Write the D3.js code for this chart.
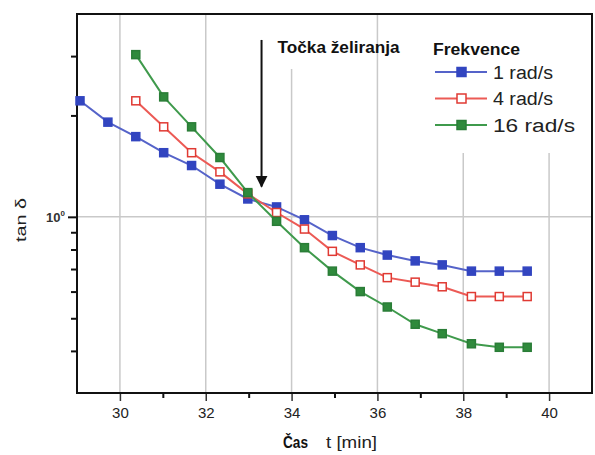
<!DOCTYPE html>
<html>
<head>
<meta charset="utf-8">
<script src="https://cdn.jsdelivr.net/npm/d3@7"></script>
<style>
  body { margin: 0; background: #fff; }
  svg { font-family: "Liberation Sans", Arial, sans-serif; }
</style>
</head>
<body>
<div id="chart"></div>
<script>
// ---------------  DATA  ---------------
const times = [29.07, 29.72, 30.37, 31.02, 31.67, 32.33, 32.98, 33.65, 34.30,
  34.95, 35.60, 36.23, 36.88, 37.51, 38.19, 38.84, 39.49];
const tan1 = [2.21, 1.91, 1.73, 1.55, 1.42, 1.25, 1.13, 1.07, 0.98,
  0.88, 0.81, 0.77, 0.74, 0.72, 0.69, 0.69, 0.69];
// 4 and 16 rad/s start at the third time point
const tan4 = [null, null, 2.21, 1.85, 1.55, 1.36, 1.17, 1.03, 0.92,
  0.79, 0.72, 0.66, 0.64, 0.62, 0.58, 0.58, 0.58];
const tan16 = [null, null, 3.03, 2.27, 1.85, 1.50, 1.18, 0.97, 0.81,
  0.69, 0.60, 0.54, 0.48, 0.45, 0.42, 0.41, 0.41];
const seriesNames = ["1 rad/s", "4 rad/s", "16 rad/s"];
const xTicks = [30, 32, 34, 36, 38, 40];
const xMinorTicks = [31, 33, 35, 37, 39];
const yMinorTicks = [0.4, 0.5, 0.6, 0.7, 0.8, 0.9, 2, 3];
const gelPoint = { t: 33.3, from: 3.35, to: 1.23 };

// ---------------  SIZING  ---------------
const w = 595, h = 455;
const pLeft = 77, pRight = 592, pTop = 14, pBottom = 393;

const x = d3.scaleLinear().domain([29, 41]).range([pLeft, pRight]);
const y = d3.scaleLog().domain([0.3, 4]).range([pBottom, pTop]);

const svg = d3.select("#chart").append("svg")
  .attr("width", w).attr("height", h);

// ---------------  GRID  ---------------
svg.append("g").selectAll("line").data(xTicks).enter().append("line")
  .attr("x1", d => x(d)).attr("x2", d => x(d))
  .attr("y1", pTop).attr("y2", pBottom)
  .attr("stroke", "#c9c9c9").attr("stroke-width", 1.5);
svg.append("line")
  .attr("x1", pLeft).attr("x2", pRight)
  .attr("y1", y(1)).attr("y2", y(1))
  .attr("stroke", "#c9c9c9").attr("stroke-width", 1.5);

// white boxes behind annotation and legend (they hide the grid)
svg.append("rect").attr("x", 268).attr("y", pTop + 1)
  .attr("width", 72).attr("height", 54).attr("fill", "#fff");
svg.append("rect").attr("x", 424).attr("y", pTop + 1)
  .attr("width", pRight - 425).attr("height", 138).attr("fill", "#fff");

// ---------------  AXES  ---------------
const xAxis = svg.append("g")
  .attr("transform", "translate(0," + pBottom + ")")
  .call(d3.axisBottom(x).tickValues(xTicks).tickSize(8).tickPadding(6).tickFormat(d3.format("d")));
xAxis.select(".domain").remove();
xAxis.selectAll("text").attr("font-size", 15).attr("fill", "#222");
xAxis.selectAll("line").attr("stroke", "#333").attr("stroke-width", 1.5);

svg.append("g")
  .attr("transform", "translate(0," + pBottom + ")")
  .call(d3.axisBottom(x).tickValues(xMinorTicks).tickSize(5).tickFormat(""))
  .call(g => g.select(".domain").remove())
  .selectAll("line").attr("stroke", "#111").attr("stroke-width", 2);

svg.append("g")
  .attr("transform", "translate(" + pLeft + ",0)")
  .call(d3.axisLeft(y).tickValues(yMinorTicks).tickSize(6).tickFormat(""))
  .call(g => g.select(".domain").remove())
  .selectAll("line").attr("stroke", "#111").attr("stroke-width", 2);

svg.append("g")
  .attr("transform", "translate(" + pLeft + ",0)")
  .call(d3.axisLeft(y).tickValues([1]).tickSize(9).tickFormat(""))
  .call(g => g.select(".domain").remove())
  .selectAll("line").attr("stroke", "#111").attr("stroke-width", 2);

// frame
svg.append("rect")
  .attr("x", pLeft).attr("y", pTop)
  .attr("width", pRight - pLeft).attr("height", pBottom - pTop)
  .attr("fill", "none").attr("stroke", "#111").attr("stroke-width", 2);

// y tick label 10^0
const yl = svg.append("text")
  .attr("x", 65).attr("y", y(1) + 5)
  .attr("text-anchor", "end").attr("font-size", 13).attr("font-weight", "bold").attr("fill", "#333");
yl.append("tspan").text("10");
yl.append("tspan").attr("dy", -6).attr("font-size", 8).text("0");

// ---------------  LABELS  ---------------
svg.append("text")
  .attr("x", 283).attr("y", 448)
  .attr("font-size", 16).attr("font-weight", "bold").attr("fill", "#111")
  .attr("textLength", 25).attr("lengthAdjust", "spacingAndGlyphs")
  .text("Čas");
svg.append("text")
  .attr("x", 326).attr("y", 448)
  .attr("font-size", 16).attr("fill", "#222")
  .attr("textLength", 51).attr("lengthAdjust", "spacingAndGlyphs")
  .text("t [min]");

svg.append("text")
  .attr("transform", "translate(26," + 220 + ") rotate(-90)")
  .attr("text-anchor", "middle").attr("font-size", 15).attr("fill", "#222")
  .attr("textLength", 44).attr("lengthAdjust", "spacingAndGlyphs")
  .text("tan δ");

// ---------------  SERIES  ---------------
const series = [
  { name: seriesNames[0], values: tan1, line: "#5563c9", color: "#3245c0", fill: "#3245c0", tl: 60 },
  { name: seriesNames[1], values: tan4, line: "#ec5a55", color: "#e03a33", fill: "#fff", tl: 60 },
  { name: seriesNames[2], values: tan16, line: "#3f9a4c", color: "#2a7d37", fill: "#2f8a3c", tl: 82 }
];

const line = d3.line()
  .defined(d => d.v != null)
  .x(d => x(d.t)).y(d => y(d.v));

series.forEach(s => {
  const pts = times.map((t, i) => ({ t: t, v: s.values[i] })).filter(d => d.v != null);
  svg.append("path").datum(pts)
    .attr("d", line).attr("fill", "none")
    .attr("stroke", s.line).attr("stroke-width", 2);
  svg.append("g").selectAll("rect").data(pts).enter().append("rect")
    .attr("x", d => x(d.t) - 4).attr("y", d => y(d.v) - 4)
    .attr("width", 8).attr("height", 8)
    .attr("fill", s.fill).attr("stroke", s.color).attr("stroke-width", 1.5);
});

// ---------------  GEL POINT ARROW  ---------------
svg.append("defs").append("marker")
  .attr("id", "arrow").attr("viewBox", "0 0 10 10")
  .attr("refX", 9).attr("refY", 5)
  .attr("markerWidth", 6).attr("markerHeight", 8)
  .attr("orient", "auto")
  .append("path").attr("d", "M0,0L10,5L0,10Z").attr("fill", "#111");
svg.append("line")
  .attr("x1", x(gelPoint.t)).attr("x2", x(gelPoint.t))
  .attr("y1", y(gelPoint.from)).attr("y2", y(gelPoint.to))
  .attr("stroke", "#111").attr("stroke-width", 2)
  .attr("marker-end", "url(#arrow)");
svg.append("text")
  .attr("x", x(gelPoint.t) + 16).attr("y", 53)
  .attr("font-size", 16).attr("font-weight", "bold").attr("fill", "#111")
  .attr("textLength", 122).attr("lengthAdjust", "spacingAndGlyphs")
  .text("Točka želiranja");

// ---------------  LEGEND  ---------------
svg.append("text")
  .attr("x", 433).attr("y", 55)
  .attr("font-size", 16).attr("font-weight", "bold").attr("fill", "#111")
  .attr("textLength", 87).attr("lengthAdjust", "spacingAndGlyphs")
  .text("Frekvence");

const leg = svg.append("g").selectAll("g").data(series).enter().append("g")
  .attr("transform", (d, i) => "translate(0," + (72 + i * 26.5) + ")");
leg.append("line")
  .attr("x1", 435).attr("x2", 487).attr("y1", 0).attr("y2", 0)
  .attr("stroke", d => d.line).attr("stroke-width", 2);
leg.append("rect")
  .attr("x", 457).attr("y", -4.5).attr("width", 9).attr("height", 9)
  .attr("fill", d => d.fill).attr("stroke", d => d.color).attr("stroke-width", 1.5);
leg.append("text")
  .attr("x", 493).attr("y", 6.5)
  .attr("font-size", 18).attr("fill", "#222")
  .attr("textLength", d => d.tl).attr("lengthAdjust", "spacingAndGlyphs")
  .text(d => d.name);
</script>
</body>
</html>
